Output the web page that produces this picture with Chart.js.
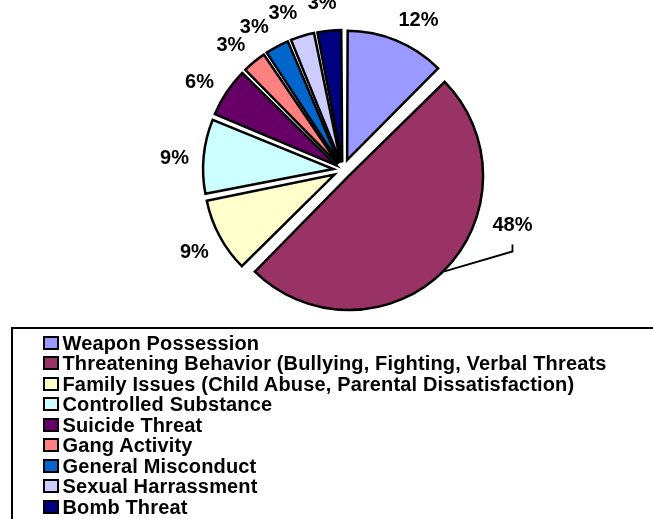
<!DOCTYPE html>
<html>
<head>
<meta charset="utf-8">
<script src="https://cdn.jsdelivr.net/npm/chart.js@4.4.0/dist/chart.umd.min.js"></script>
<style>
  html, body { margin: 0; padding: 0; background: #fff; overflow: hidden; }
  #wrap { position: relative; width: 653px; height: 519px; }
  #chart { position: absolute; left: 0; top: 0; }
  #legend {
    position: absolute; left: 11px; top: 327px; width: 700px; height: 260px;
    border: 2.5px solid #000; box-sizing: border-box; padding-top: 3.7px;
    font: bold 20px "Liberation Sans", Arial, sans-serif; letter-spacing: 0.15px; color: #000;
  }
  .row { height: 20.5px; line-height: 20.5px; display: flex; align-items: center; white-space: nowrap; }
  .box { width: 12px; height: 10px; border: 2px solid #000; margin-left: 29.5px; margin-right: 4px; flex: none; }
</style>
</head>
<body>
<div id="wrap">
  <canvas id="chart" width="653" height="519"></canvas>
  <div id="legend"></div>
</div>
<script>
const categories = [
  'Weapon Possession',
  'Threatening Behavior (Bullying, Fighting, Verbal Threats',
  'Family Issues (Child Abuse, Parental Dissatisfaction)',
  'Controlled Substance',
  'Suicide Threat',
  'Gang Activity',
  'General Misconduct',
  'Sexual Harrassment',
  'Bomb Threat'
];
const percents = [12, 48, 9, 9, 6, 3, 3, 3, 3];
const colors = ['#9999FF', '#993366', '#FFFFCC', '#CCFFFF', '#660066', '#FF8080', '#0066CC', '#CCCCFF', '#000080'];

// how far each slice is pulled out (px); the big one a little more
const explode = 14;
const explodeBig = 16.5;
const labelSize = 20;
const labelFont = 'bold ' + labelSize + 'px "Liberation Sans", Arial, sans-serif';
// small turn of each percent label (degrees) so the crowded ones spread out like Excel does
const labelNudgeDeg = [4.4, 0, -0.3, -1.3, -2, -2.4, -3.9, -4.3, -1.6];

const total = percents.reduce((a, b) => a + b, 0);
const bigIndex = percents.indexOf(Math.max(...percents));

function shiftOf(i) {
  return i === bigIndex ? explodeBig : explode;
}

// chart.js moves an arc by offset/4 * (2 - sin(circ)), so turn the wanted shift into an offset
function offsetOf(ctx) {
  const i = ctx.dataIndex;
  const circ = percents[i] / total * Math.PI * 2;
  return 4 * shiftOf(i) / (2 - Math.sin(Math.min(Math.PI, circ)));
}

const pieLabels = {
  id: 'pieLabels',
  afterDatasetsDraw(chart) {
    const c = chart.ctx;
    const meta = chart.getDatasetMeta(0);
    const capHalf = labelSize * 0.716 / 2;
    c.save();
    c.font = labelFont;
    c.fillStyle = '#000';
    c.strokeStyle = '#000';
    c.lineWidth = 1.8;
    c.textAlign = 'center';
    c.textBaseline = 'alphabetic';
    meta.data.forEach((arc, i) => {
      const p = arc.getProps(['x', 'y', 'startAngle', 'endAngle', 'outerRadius'], true);
      const mid = (p.startAngle + p.endAngle) / 2;
      const cx = p.x + Math.cos(mid) * shiftOf(i);
      const cy = p.y + Math.sin(mid) * shiftOf(i);
      const r = p.outerRadius + 1;
      const txt = percents[i] + '%';
      if (i === bigIndex) {
        // callout with a leader line
        const ex = cx + Math.cos(mid) * r;
        const ey = cy + Math.sin(mid) * r;
        const lx = ex + 68, ly = ey - 48;
        c.beginPath();
        c.moveTo(ex, ey);
        c.lineTo(lx, ly + 28);
        c.lineTo(lx, ly + 21);
        c.stroke();
        c.fillText(txt, lx, ly + capHalf);
      } else {
        const a = mid + labelNudgeDeg[i] * Math.PI / 180;
        const d = r + 28;
        c.fillText(txt, cx + Math.cos(a) * d, cy + Math.sin(a) * d + capHalf);
      }
    });
    c.restore();
  }
};

const chart = new Chart(document.getElementById('chart'), {
  type: 'pie',
  data: {
    labels: categories,
    datasets: [{
      data: percents,
      backgroundColor: colors,
      borderColor: '#000',
      borderWidth: 2.5,
      borderJoinStyle: 'miter',
      offset: offsetOf
    }]
  },
  options: {
    responsive: false,
    animation: false,
    radius: 126,
    layout: { padding: { left: 33, right: 0, top: 0, bottom: 179 } },
    plugins: {
      legend: { display: false },
      tooltip: { enabled: false }
    },
    events: []
  },
  plugins: [pieLabels]
});

// legend box under the pie
const legend = document.getElementById('legend');
categories.forEach((name, i) => {
  const row = document.createElement('div');
  row.className = 'row';
  const box = document.createElement('span');
  box.className = 'box';
  box.style.background = colors[i];
  const label = document.createElement('span');
  label.textContent = name;
  row.appendChild(box);
  row.appendChild(label);
  legend.appendChild(row);
});
</script>
</body>
</html>
